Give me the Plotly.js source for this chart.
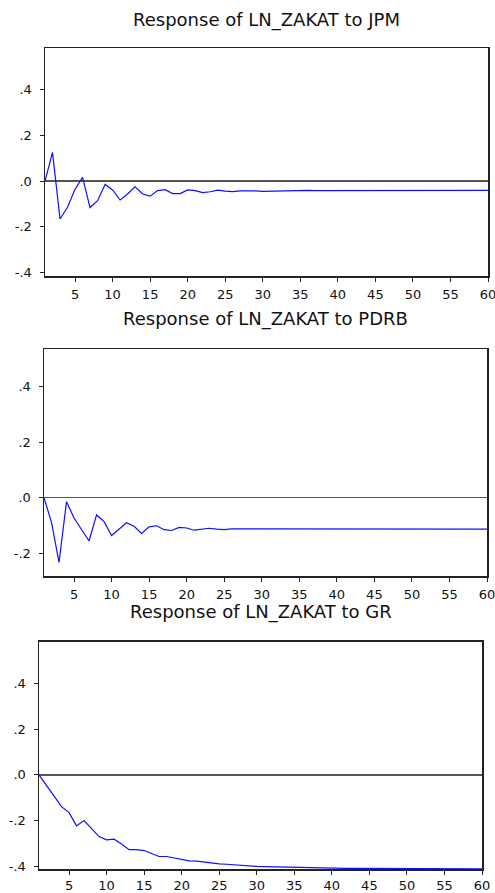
<!DOCTYPE html>
<html>
<head>
<meta charset="utf-8">
<script src="https://cdn.plot.ly/plotly-3.0.1.min.js"></script>
<style>
  html, body { margin: 0; padding: 0; background: #ffffff; }
  #chart { width: 495px; height: 893px; }
</style>
</head>
<body>
<div id="chart"></div>
<script>
// ---- data ----
const periods = [1,2,3,4,5,6,7,8,9,10,11,12,13,14,15,16,17,18,19,20,
  21,22,23,24,25,26,27,28,29,30,31,32,33,34,35,36,37,38,39,40,
  41,42,43,44,45,46,47,48,49,50,51,52,53,54,55,56,57,58,59,60];

const titles = ["Response of LN_ZAKAT to JPM", "Response of LN_ZAKAT to PDRB", "Response of LN_ZAKAT to GR"];

const respJPM = [0, 0.125, -0.166, -0.115, -0.036, 0.016, -0.116, -0.086, -0.015, -0.039,
  -0.083, -0.057, -0.025, -0.057, -0.066, -0.042, -0.038, -0.055, -0.055, -0.039,
  -0.042, -0.051, -0.047, -0.040, -0.044, -0.046, -0.043, -0.042, -0.043, -0.045,
  -0.044, -0.042, -0.042, -0.043, -0.042, -0.041, -0.042, -0.042, -0.041, -0.041,
  -0.041, -0.041, -0.041, -0.041, -0.041, -0.041, -0.041, -0.041, -0.041, -0.041,
  -0.041, -0.041, -0.041, -0.041, -0.041, -0.041, -0.041, -0.041, -0.041, -0.041];

const respPDRB = [0, -0.089, -0.233, -0.014, -0.073, -0.114, -0.156, -0.062, -0.086, -0.136,
  -0.113, -0.090, -0.103, -0.129, -0.105, -0.101, -0.115, -0.118, -0.107, -0.109,
  -0.117, -0.114, -0.110, -0.113, -0.115, -0.112, -0.112, -0.114, -0.113, -0.112,
  -0.113, -0.113, -0.113, -0.113, -0.113, -0.113, -0.113, -0.113, -0.113, -0.113,
  -0.113, -0.113, -0.113, -0.113, -0.113, -0.113, -0.113, -0.113, -0.113, -0.113,
  -0.113, -0.113, -0.113, -0.113, -0.113, -0.113, -0.113, -0.113, -0.113, -0.113];

const respGR = [0, -0.046, -0.093, -0.139, -0.165, -0.223, -0.200, -0.233, -0.270, -0.284,
  -0.281, -0.302, -0.327, -0.327, -0.331, -0.344, -0.357, -0.357, -0.363, -0.372,
  -0.376, -0.377, -0.381, -0.387, -0.389, -0.391, -0.394, -0.396, -0.398, -0.400,
  -0.401, -0.402, -0.403, -0.404, -0.405, -0.406, -0.406, -0.407, -0.407, -0.408,
  -0.408, -0.409, -0.409, -0.409, -0.410, -0.410, -0.410, -0.410, -0.411, -0.411,
  -0.411, -0.411, -0.411, -0.411, -0.411, -0.411, -0.411, -0.411, -0.411, -0.411];

const xTickVals = [5,10,15,20,25,30,35,40,45,50,55,60];
const yTickVals = [-0.4, -0.2, 0, 0.2, 0.4];
const yTickText = ["-.4", "-.2", ".0", ".2", ".4"];

// ---- layout helpers ----
const W = 495, H = 893;
const FONT = "DejaVu Sans, Arial, sans-serif";
const panels = [
  {left: 45, right: 488, top: 48,    bottom: 276,   yr: [-0.415, 0.581], ty: 19.5,  stand: 2},
  {left: 44, right: 487, top: 349,   bottom: 576,   yr: [-0.282, 0.536], ty: 319.5, stand: 2},
  {left: 39, right: 482, top: 641.7, bottom: 869.3, yr: [-0.413, 0.583], ty: 612,   stand: 0}
];
const series = [respJPM, respPDRB, respGR];

const data = [];
const layout = {
  width: W, height: H,
  margin: {l: 0, r: 0, t: 0, b: 0},
  paper_bgcolor: "#ffffff",
  plot_bgcolor: "#ffffff",
  showlegend: false,
  font: {family: FONT, color: "#000000", size: 13},
  annotations: []
};

panels.forEach((p, i) => {
  const sx = i === 0 ? "" : String(i + 1);
  data.push({
    x: periods, y: series[i],
    xaxis: "x" + sx, yaxis: "y" + sx,
    type: "scatter", mode: "lines",
    line: {color: "rgb(15,15,255)", width: 1.2},
    hoverinfo: "skip"
  });
  layout["xaxis" + sx] = {
    domain: [p.left / W, p.right / W],
    anchor: "y" + sx,
    range: [1, 60],
    tickmode: "array", tickvals: xTickVals,
    ticks: "outside", ticklen: 4, tickwidth: 1, tickcolor: "#222",
    showline: true, mirror: true, linecolor: "#222", linewidth: 1.5,
    showgrid: false, zeroline: false, automargin: false,
    tickfont: {family: FONT, size: 13, color: "#111"},
    ticklabelstandoff: p.stand,
    ticklabeloverflow: "allow",
    fixedrange: true
  };
  layout["yaxis" + sx] = {
    domain: [1 - p.bottom / H, 1 - p.top / H],
    anchor: "x" + sx,
    range: p.yr,
    tickmode: "array", tickvals: yTickVals, ticktext: yTickText,
    ticks: "outside", ticklen: 4, tickwidth: 1, tickcolor: "#222",
    showline: true, mirror: true, linecolor: "#222", linewidth: 1.5,
    showgrid: false,
    zeroline: true, zerolinecolor: "#555", zerolinewidth: 1.3,
    automargin: false,
    tickfont: {family: FONT, size: 13, color: "#111"},
    ticklabelstandoff: 5,
    fixedrange: true
  };
  layout.annotations.push({
    text: titles[i],
    xref: "paper", yref: "paper",
    x: ((p.left + p.right) / 2) / W,
    y: 1 - p.ty / H,
    xanchor: "center", yanchor: "middle",
    showarrow: false,
    font: {family: FONT, size: 18, color: "#111"}
  });
});

Plotly.newPlot("chart", data, layout, {staticPlot: true, displayModeBar: false});
</script>
</body>
</html>
